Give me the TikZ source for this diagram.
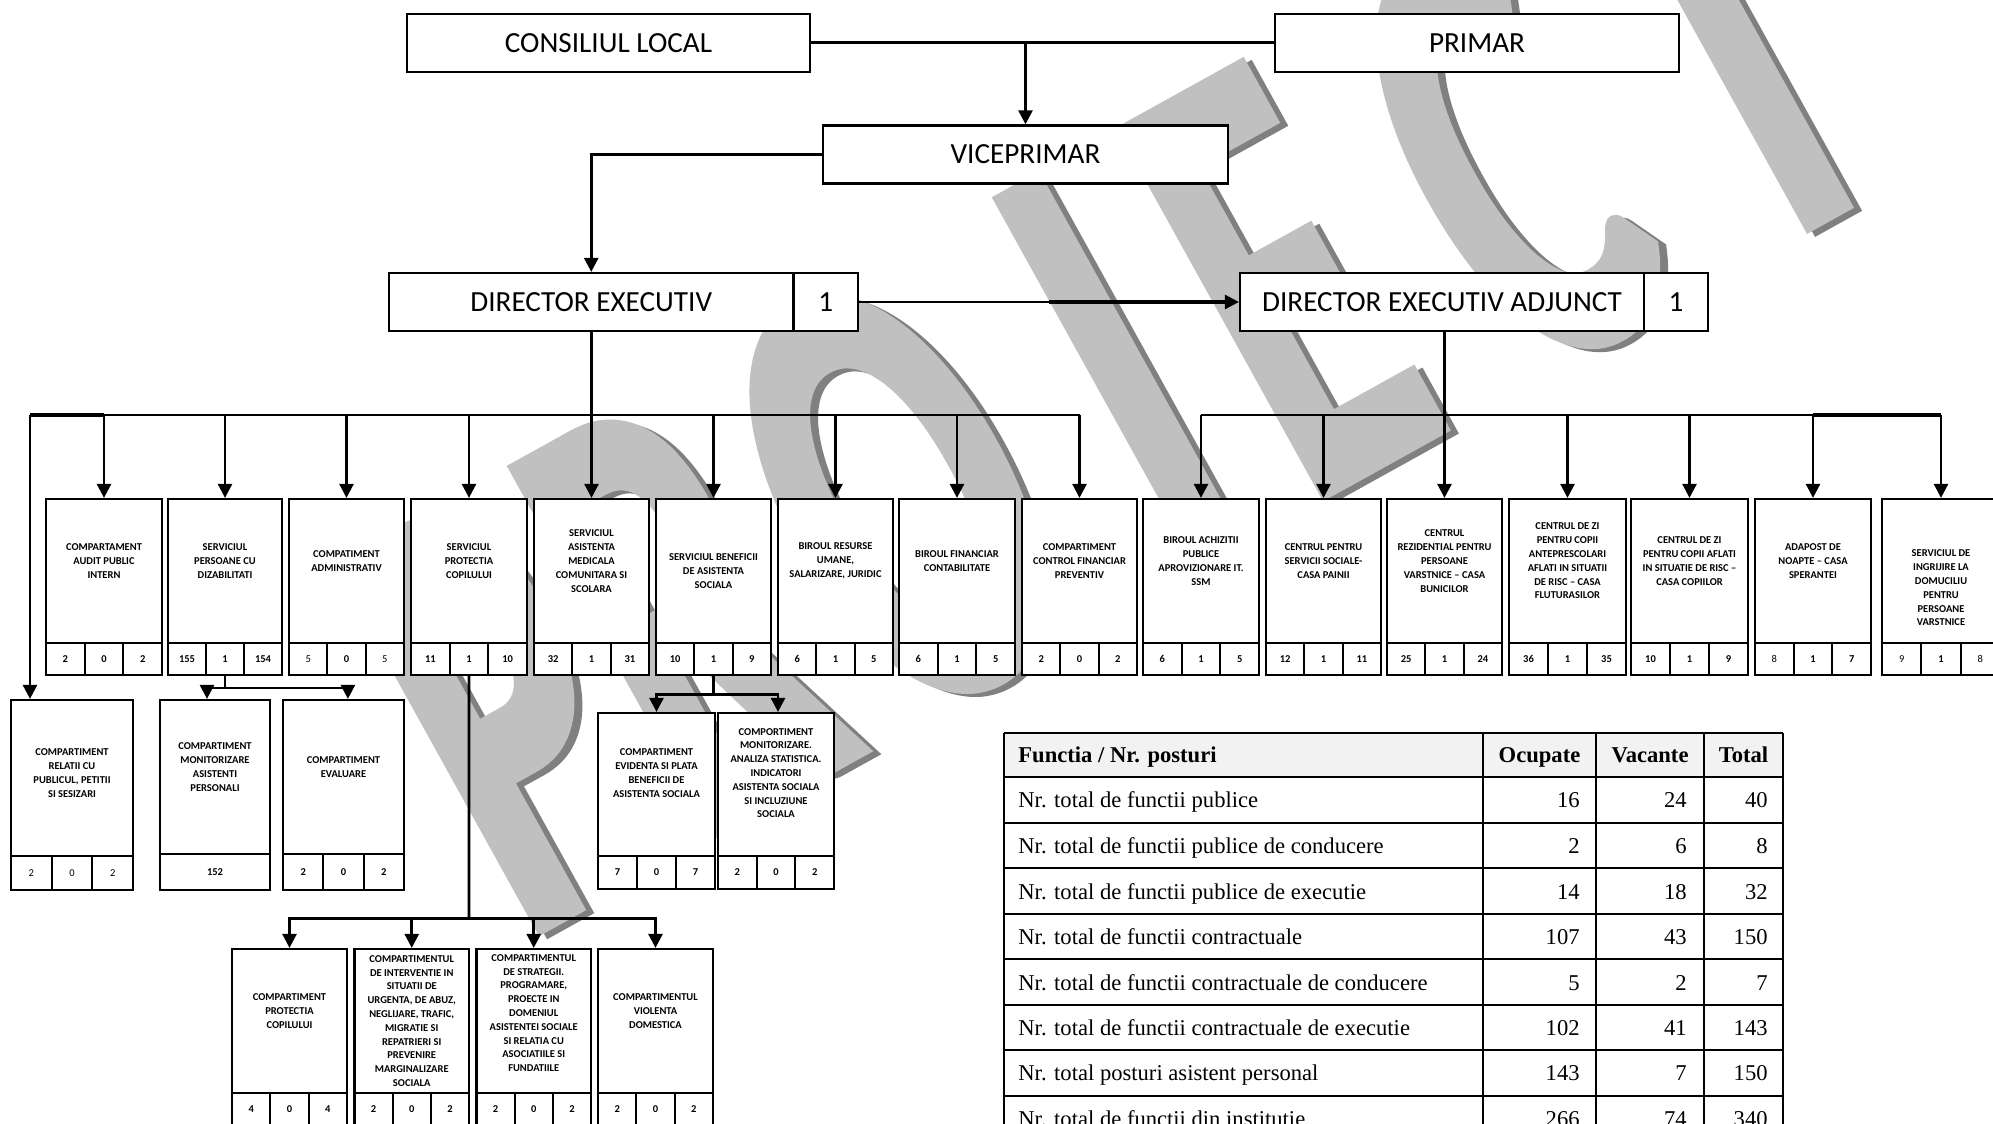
\documentclass[tikz,border=0pt]{standalone}
\usepackage{fontspec}
\setmainfont{Carlito}
\newfontfamily\tnr{Liberation Serif}
\newfontfamily\wmfont{Carlito}[FakeStretch=0.535, FakeBold=1.5]
\usetikzlibrary{fit,arrows.meta,calc}
\definecolor{wmgray}{RGB}{192,192,192}
\definecolor{wmshadow}{RGB}{128,128,128}
\definecolor{hdrgray}{RGB}{242,242,242}
\tikzset{
  bx/.style={draw, line width=1.1pt, fill=white, inner sep=0pt},
  ln/.style={line width=1.3pt},
  thk/.style={line width=1.9pt},
  arr/.style={line width=1.3pt, -{Triangle[length=7pt,width=7pt]}},
  sm/.style={font=\fontsize{5.25}{6.9}\selectfont\bfseries, align=center, inner sep=0pt},
  bigtxt/.style={font=\fontsize{14.6}{17}\selectfont, inner sep=0pt},
  wm/.style={inner sep=0pt, font=\wmfont\bfseries\fontsize{322}{322}\selectfont, rotate=29},
  tb/.style={font=\tnr\fontsize{11.3}{13}\selectfont, inner sep=0pt},
  tbh/.style={font=\tnr\bfseries\fontsize{11.3}{13}\selectfont, inner sep=0pt},
}
% box with its text: name, x1, x2, ytop, ybottom, text-centre y, text
\newcommand\ubox[7]{%
  \coordinate (#1-a) at (#2,#4);
  \coordinate (#1-b) at (#3,#5);
  \node[bx, fit=(#1-a)(#1-b)] (#1) {};
  \pgfmathsetmacro\boxmid{(#2+#3)/2}
  \node[sm] (#1-t) at (\boxmid,#6) {#7};
}
% row of three cells: name, x1, x2, ytop, ybottom, a, b, c
\newcommand\ucells[8]{%
  \pgfmathsetmacro\cellA{#2+(#3-#2)/3}
  \pgfmathsetmacro\cellB{#2+2*(#3-#2)/3}
  \coordinate (#1-p0) at (#2,#4);
  \coordinate (#1-p1) at (\cellA,#5);
  \coordinate (#1-p2) at (\cellA,#4);
  \coordinate (#1-p3) at (\cellB,#5);
  \coordinate (#1-p4) at (\cellB,#4);
  \coordinate (#1-p5) at (#3,#5);
  \node[bx, fit=(#1-p0)(#1-p1)] (#1-1) {};
  \node[bx, fit=(#1-p2)(#1-p3)] (#1-2) {};
  \node[bx, fit=(#1-p4)(#1-p5)] (#1-3) {};
  \node[sm] (#1-1t) at (#1-1.center) {#6};
  \node[sm] (#1-2t) at (#1-2.center) {#7};
  \node[sm] (#1-3t) at (#1-3.center) {#8};
}
% big box: name, x1, x2, ytop, ybottom, text
\newcommand\bbox[6]{%
  \coordinate (#1-a) at (#2,#4);
  \coordinate (#1-b) at (#3,#5);
  \node[bx, fit=(#1-a)(#1-b)] (#1) {};
  \node[bigtxt] (#1-t) at (#1.center) {#6};
}
\begin{document}
\begin{tikzpicture}[x=0.5pt,y=-0.5pt]
\useasboundingbox (0,0) rectangle (1993,1124);
\clip (0,0) rectangle (1993,1124);
\fill[white] (0,0) rectangle (1993,1124);
% watermark
\foreach \ch/\xx/\yy [count=\i] in {P/503/712,R/682/613,O/897/494,I/1119/371,E/1280/281,C/1505/157,T/1727/34}{
  \node[wm, text=wmshadow] (wms\i) at (\xx+8,\yy+3) {\ch};
}
\foreach \ch/\xx/\yy [count=\i] in {P/503/712,R/682/613,O/897/494,I/1119/371,E/1280/281,C/1505/157,T/1727/34}{
  \node[wm, text=wmgray] (wm\i) at (\xx,\yy) {\ch};
}
% top level
\bbox{cl}{407}{810}{13.6}{71.7}{CONSILIUL LOCAL}
\bbox{pr}{1275}{1679}{13.6}{71.7}{PRIMAR}
\bbox{vp}{823}{1228}{125.4}{183.5}{VICEPRIMAR}
\bbox{de}{389}{793.5}{273}{331}{DIRECTOR EXECUTIV}
\bbox{de1}{793.5}{858}{273}{331}{1}
\bbox{dea}{1240}{1644}{273}{331}{DIRECTOR EXECUTIV ADJUNCT}
\bbox{dea1}{1644}{1708}{273}{331}{1}
% row boxes
\ubox{b1}{46}{162}{499}{643}{561}{COMPARTAMENT\\AUDIT PUBLIC\\INTERN}
\ucells{b1}{46}{162}{643}{675}{2}{0}{2}
\ubox{b2}{168}{282}{499}{643}{561}{SERVICIUL\\PERSOANE CU\\DIZABILITATI}
\ucells{b2}{168}{282}{643}{675}{155}{1}{154}
\ubox{b3}{289}{404}{499}{643}{561}{COMPATIMENT\\ADMINISTRATIV}
\ucells{b3}{289}{404}{643}{675}{\mdseries 5}{0}{\mdseries 5}
\ubox{b4}{411}{527}{499}{643}{561}{SERVICIUL\\PROTECTIA\\COPILULUI}
\ucells{b4}{411}{527}{643}{675}{11}{1}{10}
\ubox{b5}{534}{649}{499}{643}{561}{SERVICIUL\\ASISTENTA\\MEDICALA\\COMUNITARA SI\\SCOLARA}
\ucells{b5}{534}{649}{643}{675}{32}{1}{31}
\ubox{b6}{656}{771}{499}{643}{571}{SERVICIUL BENEFICII\\DE ASISTENTA\\SOCIALA}
\ucells{b6}{656}{771}{643}{675}{10}{1}{9}
\ubox{b7}{778}{893}{499}{643}{561}{BIROUL RESURSE\\UMANE,\\SALARIZARE, JURIDIC}
\ucells{b7}{778}{893}{643}{675}{6}{1}{5}
\ubox{b8}{899}{1015}{499}{643}{561}{BIROUL FINANCIAR\\CONTABILITATE}
\ucells{b8}{899}{1015}{643}{675}{6}{1}{5}
\ubox{b9}{1022}{1137}{499}{643}{561}{COMPARTIMENT\\CONTROL FINANCIAR\\PREVENTIV}
\ucells{b9}{1022}{1137}{643}{675}{2}{0}{2}
\ubox{b10}{1143}{1259}{499}{643}{561}{BIROUL ACHIZITII\\PUBLICE\\APROVIZIONARE IT.\\SSM}
\ucells{b10}{1143}{1259}{643}{675}{6}{1}{5}
\ubox{b11}{1266}{1381}{499}{643}{561}{CENTRUL PENTRU\\SERVICII SOCIALE-\\CASA PAINII}
\ucells{b11}{1266}{1381}{643}{675}{12}{1}{11}
\ubox{b12}{1387}{1502}{499}{643}{561}{CENTRUL\\REZIDENTIAL PENTRU\\PERSOANE\\VARSTNICE – CASA\\BUNICILOR}
\ucells{b12}{1387}{1502}{643}{675}{25}{1}{24}
\ubox{b13}{1509}{1626}{499}{643}{561}{CENTRUL DE ZI\\PENTRU COPII\\ANTEPRESCOLARI\\AFLATI IN SITUATII\\DE RISC – CASA\\FLUTURASILOR}
\ucells{b13}{1509}{1626}{643}{675}{36}{1}{35}
\ubox{b14}{1631}{1748}{499}{643}{561}{CENTRUL DE ZI\\PENTRU COPII AFLATI\\IN SITUATIE DE RISC –\\CASA COPIILOR}
\ucells{b14}{1631}{1748}{643}{675}{10}{1}{9}
\ubox{b15}{1755}{1871}{499}{643}{561}{ADAPOST DE\\NOAPTE – CASA\\SPERANTEI}
\ucells{b15}{1755}{1871}{643}{675}{\mdseries 8}{1}{7}
\ubox{b16}{1882}{2000}{499}{643}{588}{SERVICIUL DE\\INGRIJIRE LA\\DOMUCILIU\\PENTRU\\PERSOANE\\VARSTNICE}
\ucells{b16}{1882}{2000}{643}{675}{\mdseries 9}{1}{\mdseries 8}
% second level
\ubox{rel}{11}{133}{700}{856}{773}{COMPARTIMENT\\RELATII CU\\PUBLICUL, PETITII\\SI SESIZARI}
\ucells{rel}{11}{133}{856}{890}{\mdseries 2}{\mdseries 0}{\mdseries 2}
\ubox{mon}{160}{270}{700}{854}{767}{COMPARTIMENT\\MONITORIZARE\\ASISTENTI\\PERSONALI}
\coordinate (mon-c0) at (160,854); \coordinate (mon-c1) at (270,890);
\node[bx, fit=(mon-c0)(mon-c1)] (mon-1) {};
\node[sm] (mon-1t) at (mon-1.center) {152};
\ubox{eva}{283}{404}{700}{854}{767}{COMPARTIMENT\\EVALUARE}
\ucells{eva}{283}{404}{854}{890}{2}{0}{2}
\ubox{evi}{598}{715}{713}{856}{773}{COMPARTIMENT\\EVIDENTA SI PLATA\\BENEFICII DE\\ASISTENTA SOCIALA}
\ucells{evi}{598}{715}{856}{889}{7}{0}{7}
\ubox{cmp}{718}{834}{713}{856}{773}{COMPORTIMENT\\MONITORIZARE.\\ANALIZA STATISTICA.\\INDICATORI\\ASISTENTA SOCIALA\\SI INCLUZIUNE\\SOCIALA}
\ucells{cmp}{718}{834}{856}{889}{2}{0}{2}
% third level
\ubox{c1}{232}{347}{949}{1093}{1011}{COMPARTIMENT\\PROTECTIA\\COPILULUI}
\ucells{c1}{232}{347}{1093}{1125}{4}{0}{4}
\ubox{c2}{354.5}{469}{949}{1093}{1021}{COMPARTIMENTUL\\DE INTERVENTIE IN\\SITUATII DE\\URGENTA, DE ABUZ,\\NEGLIJARE, TRAFIC,\\MIGRATIE SI\\REPATRIERI SI\\PREVENIRE\\MARGINALIZARE\\SOCIALA}
\ucells{c2}{354.5}{469}{1093}{1125}{2}{0}{2}
\ubox{c3}{476.5}{591}{949}{1093}{1013}{COMPARTIMENTUL\\DE STRATEGII.\\PROGRAMARE,\\PROECTE IN\\DOMENIUL\\ASISTENTEI SOCIALE\\SI RELATIA CU\\ASOCIATIILE SI\\FUNDATIILE}
\ucells{c3}{476.5}{591}{1093}{1125}{2}{0}{2}
\ubox{c4}{598}{713}{949}{1093}{1011}{COMPARTIMENTUL\\VIOLENTA\\DOMESTICA}
\ucells{c4}{598}{713}{1093}{1125}{2}{0}{2}
% connectors
\draw[ln] (cl.east) -- (pr.west);
\draw[arr] (vp.north |- cl.east) -- (vp.north);
\draw[arr] (vp.west) -| (de.north);
\draw[arr] (de1.east) -- (dea.west);
\coordinate (dek) at (1049,302);
\draw[thk] (dek) -- ([xshift=-6pt]dea.west);
\coordinate (busL) at (30,415);
\draw[ln] (de.south) -- (de.south |- busL);
\draw[arr] (b5.north |- busL) -- (b5.north);
\draw[ln] (busL) -- (b9.north |- busL);
\draw[thk] (busL) -- (b1.north |- busL);
\foreach \b in {b1,b2,b3,b4,b6,b7,b8,b9}{\draw[arr] (\b.north |- busL) -- (\b.north);}
\draw[arr] (busL) -- (busL |- rel.north);
\draw[ln] (b12.north |- dea.south) -- (b12.north |- busL);
\draw[ln] (b10.north |- busL) -- (b16.north |- busL);
\draw[thk] (b15.north |- busL) -- (b16.north |- busL);
\foreach \b in {b10,b11,b12,b13,b14,b15,b16}{\draw[arr] (\b.north |- busL) -- (\b.north);}
\coordinate (j2) at (225,688);
\draw[ln] (b2-2.south) -- (j2);
\draw[arr] (j2) -| ([xshift=-4pt]mon.north);
\draw[arr] (j2) -| ([xshift=2.2pt]eva.north);
\coordinate (j6) at (713.5,694.5);
\draw[ln] (b6-2.south) -- (j6);
\draw[arr] (j6) -| (evi.north);
\draw[arr] (j6) -| ([xshift=1pt]cmp.north);
\coordinate (j4) at (469,918.6);
\draw[ln] (b4-2.south) -- (j4);
\foreach \c in {c1,c2,c3,c4}{\draw[arr] (j4) -| (\c.north);}
% table
\fill[hdrgray] (1004,733.3) rectangle (1783,776.7);
\foreach \yy in {733.3,776.7,822.7,868.3,914,959.3,1005,1050,1095.7,1141.4}{\draw[line width=1pt] (1004,\yy) -- (1783,\yy);}
\foreach \xx in {1004,1483,1596,1704,1783}{\draw[line width=1pt] (\xx,733.3) -- (\xx,1141.4);}
\node[tbh, anchor=base west] (th0) at (1018,762) {Functia / Nr. posturi};
\node[tbh, anchor=base] (th1) at (1539.5,762) {Ocupate};
\node[tbh, anchor=base] (th2) at (1650,762) {Vacante};
\node[tbh, anchor=base] (th3) at (1743.5,762) {Total};
\foreach \lab/\o/\v/\t/\yc [count=\i] in {
  Nr. total de functii publice/16/24/40/799.7,
  Nr. total de functii publice de conducere/2/6/8/845.5,
  Nr. total de functii publice de executie/14/18/32/891.2,
  Nr. total de functii contractuale/107/43/150/936.7,
  Nr. total de functii contractuale de conducere/5/2/7/982.2,
  Nr. total de functii contractuale de executie/102/41/143/1027.5,
  Nr. total posturi asistent personal/143/7/150/1072.9,
  Nr. total de functii din institutie/266/74/340/1118.6}{
  \node[tb, anchor=base west] (r\i-l) at (1018,\yc+8) {\lab};
  \node[tb, anchor=base east] (r\i-o) at (1580,\yc+8) {\o};
  \node[tb, anchor=base east] (r\i-v) at (1687,\yc+8) {\v};
  \node[tb, anchor=base east] (r\i-t) at (1768,\yc+8) {\t};
}
\end{tikzpicture}
\end{document}
